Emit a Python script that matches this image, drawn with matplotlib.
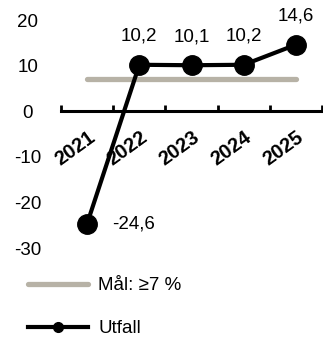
import matplotlib
matplotlib.use("Agg")
import matplotlib.pyplot as plt
from matplotlib.lines import Line2D
import numpy as np

plt.rcParams['font.family'] = ['Liberation Sans', 'DejaVu Sans']

years = ["2021", "2022", "2023", "2024", "2025"]
utfall = [-24.6, 10.2, 10.1, 10.2, 14.6]
utfall_labels = ["-24,6", "10,2", "10,1", "10,2", "14,6"]
maal = 7
y_ticks = [20, 10, 0, -10, -20, -30]

FS = 13.5
GOAL_COLOR = "#b7b2a6"

fig = plt.figure(figsize=(3.23, 3.40), dpi=100)
ax = fig.add_axes([0.189, 0.27, 0.808, 0.671])

x = np.arange(len(years))
ax.plot([x[0], x[-1]], [maal, maal], color=GOAL_COLOR, lw=3.8, solid_capstyle="round", zorder=2)
ax.plot(x, utfall, color="black", lw=3.0, marker="o", markersize=14, zorder=3)

for xi, v, lab in zip(x, utfall, utfall_labels):
    if v < 0:
        ax.annotate(lab, (xi, v), xytext=(18, 0), textcoords="offset points",
                    ha="left", va="center", fontsize=FS)
    else:
        ax.annotate(lab, (xi, v), xytext=(0, 14.5), textcoords="offset points",
                    ha="center", va="bottom", fontsize=FS)

ax.set_xlim(-0.5, len(years) - 0.5)
ax.set_ylim(-30, 20)
ax.set_yticks(y_ticks)
ax.set_yticklabels([str(t) for t in y_ticks], fontsize=FS, ha="center")
ax.tick_params(axis="y", length=0, pad=24)

for s in ["top", "right", "left"]:
    ax.spines[s].set_visible(False)
ax.spines["bottom"].set_position(("data", 0))
ax.spines["bottom"].set_linewidth(2.2)

# category boundaries carry the tick marks, category centres carry the labels
ax.set_xticks(np.arange(-0.5, len(years)), labels=[])
ax.tick_params(axis="x", which="major", direction="in", length=4.5, width=2)
ax.set_xticks(x, minor=True)
ax.set_xticklabels(years, minor=True, rotation=36, ha="right", va="top",
                   rotation_mode="anchor", fontsize=14.5, fontweight="bold")
ax.tick_params(axis="x", which="minor", length=0, pad=12)

handles = [
    Line2D([], [], color=GOAL_COLOR, lw=3.8, solid_capstyle="round"),
    Line2D([], [], color="black", lw=3.0, marker="o", markersize=7),
]
fig.legend(handles, ["Mål: ≥7 %", "Utfall"], loc="upper left",
           bbox_to_anchor=(0.035, 0.235), frameon=False, fontsize=FS,
           handlelength=3.2, labelspacing=1.4, handletextpad=0.55)

fig.savefig("out.png", dpi=100)
